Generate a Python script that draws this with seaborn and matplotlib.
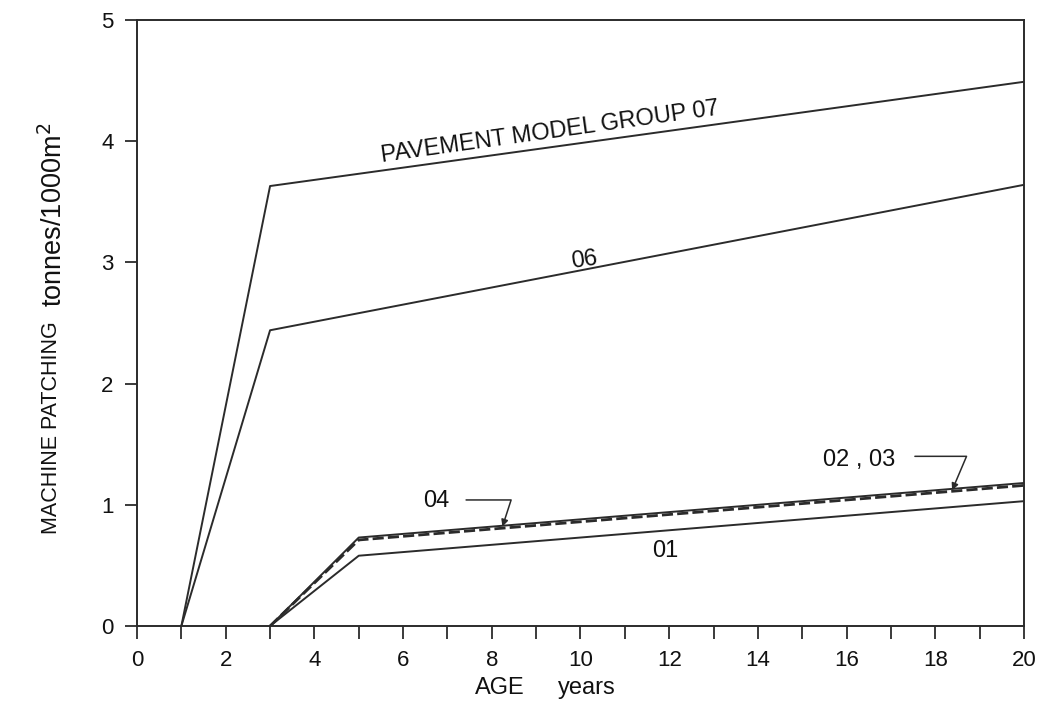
import matplotlib
matplotlib.use('Agg')
import matplotlib.pyplot as plt
import seaborn as sns
from matplotlib.ticker import MultipleLocator

# Data (age in years, tonnes/1000m2)
age_0607 = [1, 3, 20]
group_07 = [0, 3.63, 4.49]
group_06 = [0, 2.44, 3.64]

age_low = [3, 5, 20]
group_0203 = [0, 0.73, 1.18]
group_04 = [0, 0.71, 1.16]
group_01 = [0, 0.58, 1.03]

x_ticks = list(range(0, 21, 2))
y_ticks = [0, 1, 2, 3, 4, 5]

sns.set_style('ticks')
plt.rcParams['font.family'] = ['Liberation Sans', 'DejaVu Sans']

fig = plt.figure(figsize=(10.42, 7.06), dpi=100)
ax = fig.add_axes([0.1315, 0.1133, 0.8512, 0.8584])

lc = '#2b2b2b'
tc = '#111111'
sns.lineplot(x=age_0607, y=group_07, ax=ax, color=lc, lw=1.4, sort=False)
sns.lineplot(x=age_0607, y=group_06, ax=ax, color=lc, lw=1.4, sort=False)
sns.lineplot(x=age_low, y=group_0203, ax=ax, color=lc, lw=1.4, sort=False)
sns.lineplot(x=age_low, y=group_04, ax=ax, color=lc, lw=2.0, sort=False,
             linestyle=(0, (4, 1.5)))
sns.lineplot(x=age_low, y=group_01, ax=ax, color=lc, lw=1.4, sort=False)

ax.set_xlim(0, 20)
ax.set_ylim(0, 5)
ax.set_xticks(x_ticks)
ax.set_yticks(y_ticks)
ax.xaxis.set_minor_locator(MultipleLocator(1))
ax.tick_params(axis='both', which='both', direction='out', length=9, width=1.3,
               color=lc, labelsize=16, pad=8, labelcolor=tc)
for s in ax.spines.values():
    s.set_color(lc)
    s.set_linewidth(1.4)

# labels on the curves
ax.text(9.33, 4.02, 'PAVEMENT MODEL GROUP 07', fontsize=17, rotation=8,
        ha='center', va='baseline', rotation_mode='anchor', color=tc)
ax.text(10.1, 2.97, '06', fontsize=17, rotation=8,
        ha='center', va='baseline', rotation_mode='anchor', color=tc)
ax.text(11.9, 0.62, '01', fontsize=17, ha='center', va='center', color=tc)
ax.text(6.75, 1.03, '04', fontsize=17, ha='center', va='center', color=tc)
ax.text(16.28, 1.37, '02 , 03', fontsize=17, ha='center', va='center', color=tc)

# leader arrows
ax.annotate('', xy=(8.24, 0.82), xytext=(7.42, 1.04),
            arrowprops=dict(arrowstyle='-|>', color=lc, lw=1.1, mutation_scale=10,
                            connectionstyle='angle,angleA=0,angleB=72,rad=0',
                            shrinkA=0, shrinkB=0))
ax.annotate('', xy=(18.38, 1.12), xytext=(17.54, 1.4),
            arrowprops=dict(arrowstyle='-|>', color=lc, lw=1.1, mutation_scale=10,
                            connectionstyle='angle,angleA=0,angleB=67,rad=0',
                            shrinkA=0, shrinkB=0))

# axis titles (two parts each, spaced as in the original)
fig.text(0.049, 0.394, 'MACHINE PATCHING', rotation=90, fontsize=15.5,
         ha='center', va='center', color=tc)
fig.text(0.052, 0.695, 'tonnes/1000m$^2$', rotation=90, fontsize=19.5,
         ha='center', va='center', color=tc)
fig.text(0.480, 0.0255, 'AGE', fontsize=17, ha='center', va='center', color=tc)
fig.text(0.563, 0.0255, 'years', fontsize=17, ha='center', va='center', color=tc)

fig.savefig('out.png', dpi=100)
